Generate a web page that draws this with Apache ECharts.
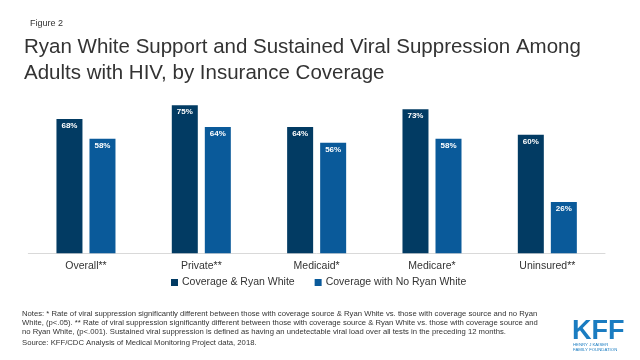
<!DOCTYPE html>
<html>
<head>
<meta charset="utf-8">
<script src="https://cdn.jsdelivr.net/npm/echarts@6/dist/echarts.min.js"></script>
<style>
html,body{margin:0;padding:0;background:#fff;}
#chart{width:640px;height:360px;}
</style>
</head>
<body>
<div id="chart"></div>
<script>
var categories = ['Overall**', 'Private**', 'Medicaid*', 'Medicare*', 'Uninsured**'];
var seriesNames = ['Coverage & Ryan White', 'Coverage with No Ryan White'];
var ryanWhite = [68, 75, 64, 73, 60];
var noRyanWhite = [58, 64, 56, 58, 26];
var notesLines = [
  'Notes: * Rate of viral suppression significantly different between those with coverage source & Ryan White vs. those with coverage source and no Ryan',
  'White, (p<.05). ** Rate of viral suppression significantly different between those with coverage source & Ryan White vs. those with coverage source and',
  'no Ryan White, (p<.001). Sustained viral suppression is defined as having an undetectable viral load over all tests in the preceding 12 months.'
];
var sourceText = 'Source: KFF/CDC Analysis of Medical Monitoring Project data, 2018.';

var FONT = '"Liberation Sans", Arial, sans-serif';
var chart = echarts.init(document.getElementById('chart'), null, {renderer: 'canvas'});
var labelStyle = {
  show: true, position: 'insideTop', distance: 3,
  color: '#ffffff', fontSize: 8, fontWeight: 'bold', fontFamily: FONT,
  formatter: function (p) { return p.value + '%'; }
};
chart.setOption({
  backgroundColor: '#ffffff',
  animation: false,
  title: [
    {text: 'Figure 2', left: 25, top: 14,
     textStyle: {fontSize: 9, fontWeight: 'normal', color: '#333', fontFamily: FONT}},
    {text: 'Ryan White Support and Sustained Viral Suppression Among\nAdults with HIV, by Insurance Coverage',
     left: 19, top: 30,
     textStyle: {fontSize: 20.5, lineHeight: 25.5, fontWeight: 'normal', color: '#333', fontFamily: FONT}}
  ],
  legend: {
    data: seriesNames, left: 171, top: 277, padding: 0,
    itemWidth: 7, itemHeight: 7, itemGap: 20,
    icon: 'rect',
    textStyle: {fontSize: 10.5, color: '#333', fontFamily: FONT, padding: [0, 0, 0, -1]}
  },
  grid: {left: 28.3, right: 35, top: 55.8, bottom: 106.7, containLabel: false},
  xAxis: {
    type: 'category', data: categories,
    axisLine: {show: true, lineStyle: {color: '#d9d9d9', width: 1}},
    axisTick: {show: false},
    axisLabel: {fontSize: 10.5, color: '#333', fontFamily: FONT, margin: 7}
  },
  yAxis: {
    type: 'value', min: 0, max: 100, show: false,
    splitLine: {show: false}
  },
  series: [
    {name: seriesNames[0], type: 'bar', data: ryanWhite, barWidth: 26, barGap: '27%',
     itemStyle: {color: '#023b63'}, label: labelStyle},
    {name: seriesNames[1], type: 'bar', data: noRyanWhite, barWidth: 26,
     itemStyle: {color: '#0a5a9a'}, label: labelStyle}
  ],
  graphic: [
    {type: 'text', left: 22, top: 309,
     style: {text: notesLines.join('\n'), fontSize: 7.7, lineHeight: 9.3, fill: '#333', fontFamily: FONT}},
    {type: 'text', left: 22, top: 338.5,
     style: {text: sourceText, fontSize: 7.7, fill: '#333', fontFamily: FONT}},
    {type: 'text', left: 572, top: 318,
     style: {text: 'KFF', fontSize: 27, fontWeight: 'bold', fill: '#1a7cc1', fontFamily: '"Liberation Sans Narrow", "Liberation Sans", Arial, sans-serif'}},
    {type: 'text', left: 573, top: 343,
     style: {text: 'HENRY J KAISER\nFAMILY FOUNDATION', fontSize: 4.3, lineHeight: 4.6, fill: '#1a7cc1', fontFamily: FONT}}
  ]
});
</script>
</body>
</html>
